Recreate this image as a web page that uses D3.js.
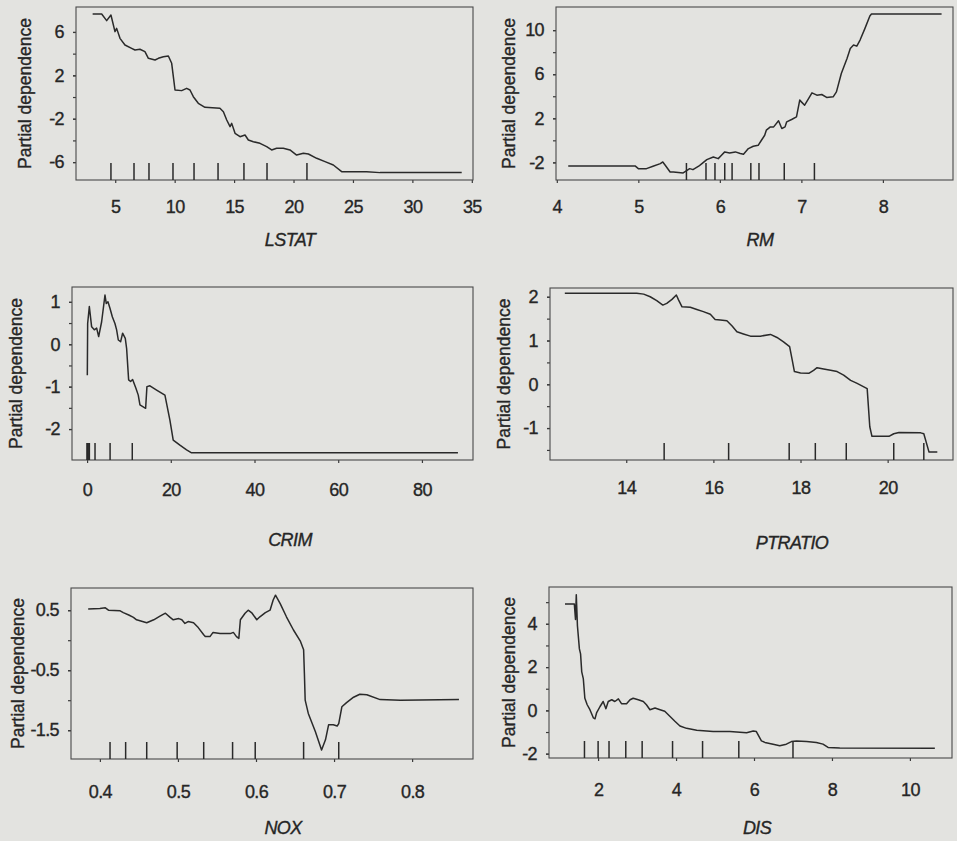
<!DOCTYPE html>
<html>
<head>
<meta charset="utf-8">
<script src="https://cdn.jsdelivr.net/npm/d3@7"></script>
<style>
  body { margin: 0; background: #e3e3e0; }
  svg text { fill: #262626; stroke: #262626; stroke-width: 0.35; }
  .tick text { font-family: "Liberation Sans", Arial, sans-serif; font-size: 18px; letter-spacing: -0.6px; }
  .tick line { stroke: #3a3a3a; stroke-width: 1.2; }
  .ytitle { font-family: "Liberation Sans", Arial, sans-serif; font-size: 17.5px; }
  .xtitle { font-family: "Liberation Sans", Arial, sans-serif; font-size: 18px; font-style: italic; letter-spacing: -0.6px; }
</style>
</head>
<body>
<div class="content"></div>
<script>
(function() {

  // Partial dependence curves
  var lstatX = [3.10, 3.86, 4.28, 4.64, 4.98, 5.12, 5.40, 5.82, 6.38, 6.66, 7.08, 7.50, 7.79, 8.35, 8.63, 9.05, 9.47, 9.75, 9.89, 10.03, 10.59, 11.01, 11.29, 11.57, 11.99, 12.55, 13.81, 14.10, 14.38, 14.66, 14.80, 15.08, 15.50, 15.92, 16.20, 16.62, 17.18, 17.74, 18.16, 18.58, 19.14, 19.70, 20.26, 20.83, 21.25, 21.95, 22.65, 23.35, 24.05, 26.15, 27.28, 34.15];
  var lstatY = [7.65, 7.65, 7.04, 7.56, 6.03, 6.33, 5.41, 4.80, 4.49, 4.34, 4.40, 4.18, 3.57, 3.41, 3.57, 3.72, 3.78, 3.11, 1.88, 0.65, 0.59, 0.80, 0.65, 0.03, -0.58, -0.95, -1.04, -1.35, -2.12, -2.73, -2.43, -3.35, -3.66, -3.50, -3.96, -4.12, -4.27, -4.58, -4.88, -4.73, -4.73, -4.88, -5.35, -5.19, -5.25, -5.65, -5.96, -6.27, -6.88, -6.88, -6.97, -6.97];
  var lstatRug = [4.64, 6.58, 7.84, 9.86, 11.63, 13.65, 15.83, 17.77, 21.13];

  var rmX = [4.14, 4.96, 5.00, 5.10, 5.18, 5.27, 5.30, 5.33, 5.39, 5.43, 5.55, 5.63, 5.67, 5.74, 5.78, 5.84, 5.92, 5.98, 6.02, 6.06, 6.12, 6.19, 6.25, 6.29, 6.35, 6.41, 6.47, 6.51, 6.55, 6.57, 6.62, 6.66, 6.72, 6.76, 6.80, 6.82, 6.88, 6.94, 6.98, 7.00, 7.04, 7.09, 7.13, 7.19, 7.25, 7.31, 7.39, 7.43, 7.49, 7.56, 7.60, 7.64, 7.68, 7.72, 7.78, 7.84, 7.86, 8.72];
  var rmY = [-2.32, -2.32, -2.57, -2.57, -2.35, -2.11, -1.96, -2.26, -2.87, -2.87, -2.96, -2.57, -2.66, -2.35, -2.11, -1.75, -1.51, -1.66, -1.35, -1.05, -1.14, -1.05, -1.20, -1.26, -0.75, -0.54, -0.45, 0.01, 0.46, 0.92, 1.22, 1.22, 1.77, 1.07, 1.22, 1.68, 1.89, 2.13, 3.65, 3.49, 3.19, 3.80, 4.31, 4.10, 4.16, 3.89, 3.95, 4.40, 6.07, 7.43, 8.34, 8.65, 8.55, 9.10, 10.16, 11.28, 11.46, 11.46];
  var rmRug = [5.59, 5.83, 5.94, 6.06, 6.15, 6.38, 6.48, 6.79, 7.16];

  var crimX = [0.06, 0.14, 0.54, 1.09, 1.73, 2.29, 2.77, 3.48, 4.28, 4.59, 4.99, 5.47, 6.03, 6.66, 7.06, 7.46, 8.02, 8.49, 9.13, 9.45, 9.93, 10.40, 10.88, 11.67, 12.23, 12.63, 13.99, 14.30, 15.02, 16.61, 18.60, 19.79, 20.58, 22.18, 23.77, 24.96, 88.60];
  var crimY = [-0.73, 0.49, 0.89, 0.41, 0.34, 0.38, 0.18, 0.53, 1.16, 0.96, 1.00, 0.85, 0.65, 0.49, 0.34, 0.10, 0.06, 0.26, 0.14, -0.10, -0.84, -0.88, -0.83, -1.04, -1.20, -1.43, -1.51, -1.00, -0.98, -1.08, -1.20, -1.79, -2.26, -2.38, -2.49, -2.56, -2.56];
  var crimRug = [0.04, 0.06, 0.10, 0.15, 0.26, 0.55, 1.9, 5.5, 10.8];

  var ptratioX = [12.59, 14.24, 14.40, 14.55, 14.70, 14.84, 14.93, 15.05, 15.15, 15.20, 15.28, 15.47, 15.62, 15.77, 15.93, 16.04, 16.16, 16.31, 16.43, 16.54, 16.69, 16.85, 17.08, 17.31, 17.46, 17.61, 17.75, 17.81, 17.86, 18.00, 18.19, 18.30, 18.38, 18.53, 18.69, 18.84, 18.99, 19.15, 19.30, 19.53, 19.59, 19.64, 20.03, 20.14, 20.26, 20.76, 20.83, 20.95, 21.14];
  var ptratioY = [2.08, 2.08, 2.06, 2.00, 1.91, 1.81, 1.85, 1.94, 2.04, 1.93, 1.77, 1.76, 1.71, 1.66, 1.60, 1.48, 1.47, 1.45, 1.33, 1.20, 1.15, 1.10, 1.10, 1.14, 1.07, 0.97, 0.86, 0.55, 0.29, 0.26, 0.25, 0.32, 0.38, 0.35, 0.32, 0.29, 0.21, 0.09, 0.02, -0.10, -0.97, -1.19, -1.19, -1.13, -1.10, -1.11, -1.13, -1.55, -1.55];
  var ptratioRug = [14.87, 16.35, 17.74, 18.34, 19.05, 20.14, 20.83];

  var noxX = [0.385, 0.400, 0.407, 0.411, 0.426, 0.430, 0.437, 0.443, 0.447, 0.460, 0.469, 0.477, 0.484, 0.490, 0.494, 0.501, 0.505, 0.509, 0.513, 0.520, 0.526, 0.533, 0.535, 0.541, 0.545, 0.554, 0.567, 0.571, 0.575, 0.578, 0.580, 0.586, 0.590, 0.595, 0.601, 0.605, 0.612, 0.618, 0.622, 0.625, 0.631, 0.639, 0.648, 0.657, 0.661, 0.662, 0.663, 0.667, 0.676, 0.684, 0.689, 0.693, 0.699, 0.704, 0.706, 0.710, 0.716, 0.725, 0.733, 0.742, 0.759, 0.785, 0.860];
  var noxY = [0.52, 0.53, 0.54, 0.50, 0.49, 0.46, 0.42, 0.38, 0.34, 0.29, 0.34, 0.40, 0.45, 0.38, 0.34, 0.36, 0.34, 0.28, 0.31, 0.29, 0.21, 0.09, 0.06, 0.06, 0.13, 0.11, 0.11, 0.13, 0.06, 0.03, 0.34, 0.45, 0.50, 0.45, 0.34, 0.39, 0.46, 0.50, 0.67, 0.75, 0.61, 0.39, 0.17, -0.02, -0.16, -0.55, -1.00, -1.22, -1.52, -1.83, -1.66, -1.41, -1.41, -1.43, -1.39, -1.11, -1.04, -0.95, -0.90, -0.91, -0.99, -1.00, -0.99];
  var noxRug = [0.413, 0.433, 0.460, 0.499, 0.533, 0.570, 0.599, 0.661, 0.706];

  var disX = [1.15, 1.39, 1.42, 1.44, 1.47, 1.52, 1.55, 1.58, 1.62, 1.66, 1.72, 1.79, 1.88, 1.92, 1.96, 2.05, 2.13, 2.20, 2.26, 2.35, 2.43, 2.52, 2.60, 2.73, 2.82, 2.90, 3.03, 3.16, 3.24, 3.33, 3.46, 3.59, 3.71, 3.84, 3.97, 4.10, 4.27, 4.53, 4.95, 5.38, 5.81, 5.98, 6.06, 6.19, 6.28, 6.49, 6.66, 6.83, 6.96, 7.09, 7.35, 7.60, 7.77, 7.90, 8.20, 10.64];
  var disY = [4.91, 4.91, 4.20, 5.34, 3.90, 2.84, 2.61, 1.78, 1.47, 0.56, 0.26, 0.03, -0.35, -0.39, -0.12, 0.18, 0.41, 0.08, 0.41, 0.49, 0.41, 0.53, 0.31, 0.31, 0.49, 0.56, 0.49, 0.41, 0.26, 0.03, 0.11, 0.03, -0.04, -0.27, -0.50, -0.72, -0.83, -0.92, -0.98, -0.98, -1.03, -0.95, -0.98, -1.41, -1.48, -1.56, -1.63, -1.56, -1.44, -1.41, -1.44, -1.48, -1.56, -1.71, -1.74, -1.75];
  var disRug = [1.65, 2.00, 2.28, 2.71, 3.13, 3.91, 4.68, 5.61, 7.00];

  // Tick labels
  var lstatXTicks = [5, 10, 15, 20, 25, 30, 35];
  var lstatYLabels = [-6, -2, 2, 6];
  var lstatYTicks = [-6, -4, -2, 0, 2, 4, 6];
  var rmXTicks = [4, 5, 6, 7, 8];
  var rmYLabels = [-2, 2, 6, 10];
  var rmYTicks = [-2, 0, 2, 4, 6, 8, 10];
  var crimXTicks = [0, 20, 40, 60, 80];
  var crimYLabels = [-2, -1, 0, 1];
  var crimYTicks = [-2, -1.5, -1, -0.5, 0, 0.5, 1];
  var ptratioXTicks = [14, 16, 18, 20];
  var ptratioYLabels = [-1, 0, 1, 2];
  var ptratioYTicks = [-1.5, -1, -0.5, 0, 0.5, 1, 1.5, 2];
  var noxXTicks = [0.4, 0.5, 0.6, 0.7, 0.8];
  var noxYLabels = [-1.5, -0.5, 0.5];
  var noxYTicks = [-1.5, -1, -0.5, 0, 0.5];
  var disXTicks = [2, 4, 6, 8, 10];
  var disYLabels = [-2, 0, 2, 4];
  var disYTicks = [-2, -1, 0, 1, 2, 3, 4, 5];

  // Panels: data + where each box sits on the page
  var panels = [
    { name: "LSTAT", xs: lstatX, ys: lstatY, rug: lstatRug, xTicks: lstatXTicks, yLabels: lstatYLabels, yTicks: lstatYTicks,
      xDomain: [1.7, 35.1], yDomain: [-7.65, 8.3], box: [76, 7, 473, 180], gap: 27, title: [290, 240], yTitleX: 25 },
    { name: "RM", xs: rmX, ys: rmY, rug: rmRug, xTicks: rmXTicks, yLabels: rmYLabels, yTicks: rmYTicks,
      xDomain: [3.99, 8.86], yDomain: [-3.6, 12.1], box: [556, 7, 953, 180], gap: 27, title: [760, 240], yTitleX: 509 },
    { name: "CRIM", xs: crimX, ys: crimY, rug: crimRug, xTicks: crimXTicks, yLabels: crimYLabels, yTicks: crimYTicks,
      xDomain: [-3.6, 92.2], yDomain: [-2.73, 1.35], box: [72, 287, 473, 460], gap: 30, title: [290, 540], yTitleX: 16 },
    { name: "PTRATIO", xs: ptratioX, ys: ptratioY, rug: ptratioRug, xTicks: ptratioXTicks, yLabels: ptratioYLabels, yTicks: ptratioYTicks,
      xDomain: [12.25, 21.5], yDomain: [-1.73, 2.2], box: [550, 288, 953, 460], gap: 28, title: [792, 543], yTitleX: 504 },
    { name: "NOX", xs: noxX, ys: noxY, rug: noxRug, xTicks: noxXTicks, yLabels: noxYLabels, yTicks: noxYTicks,
      xDomain: [0.363, 0.878], yDomain: [-1.98, 0.87], box: [71, 588, 473, 759], gap: 33, title: [283, 828], yTitleX: 18 },
    { name: "DIS", xs: disX, ys: disY, rug: disRug, xTicks: disXTicks, yLabels: disYLabels, yTicks: disYTicks,
      xDomain: [0.74, 11.08], yDomain: [-2.2, 5.7], box: [549, 587, 952, 758], gap: 32, title: [757, 828], yTitleX: 509 }
  ];

  var width = 957;
  var height = 841;
  var ink = "#2a2a2a";

  var svg = d3.select(".content").append("svg")
      .attr("width", width)
      .attr("height", height);

  svg.append("rect")
      .attr("width", width)
      .attr("height", height)
      .attr("fill", "#e3e3e0");

  function fmt(d) { return String(d); }

  function drawPanel(p) {
    var left = p.box[0], top = p.box[1], right = p.box[2], bottom = p.box[3];

    var x = d3.scaleLinear().domain(p.xDomain).range([left, right]);
    var y = d3.scaleLinear().domain(p.yDomain).range([bottom, top]);

    var g = svg.append("g").attr("class", "panel");

    // minor y ticks
    g.append("g")
        .attr("transform", "translate(" + left + ",0)")
        .call(d3.axisLeft(y).tickValues(p.yTicks).tickSize(3).tickFormat(""))
        .call(function(a) { a.select(".domain").remove(); });

    // labelled y ticks
    g.append("g")
        .attr("transform", "translate(" + left + ",0)")
        .call(d3.axisLeft(y).tickValues(p.yLabels).tickSize(3).tickPadding(9).tickFormat(fmt))
        .call(function(a) { a.select(".domain").remove(); });

    // x axis
    g.append("g")
        .attr("transform", "translate(0," + bottom + ")")
        .call(d3.axisBottom(x).tickValues(p.xTicks).tickSize(3).tickPadding(p.gap - 10).tickFormat(fmt))
        .call(function(a) { a.select(".domain").remove(); });

    // frame
    g.append("rect")
        .attr("x", left)
        .attr("y", top)
        .attr("width", right - left)
        .attr("height", bottom - top)
        .attr("fill", "none")
        .attr("stroke", "#4a4a4a")
        .attr("stroke-width", 1.1);

    // rug of deciles
    g.selectAll(".rug")
        .data(p.rug)
        .enter()
        .append("line")
        .attr("class", "rug")
        .attr("x1", function(d) { return x(d); })
        .attr("x2", function(d) { return x(d); })
        .attr("y1", bottom)
        .attr("y2", bottom - 17)
        .attr("stroke", ink)
        .attr("stroke-width", 1.5);

    // curve
    var line = d3.line()
        .x(function(d) { return x(d[0]); })
        .y(function(d) { return y(d[1]); });

    g.append("path")
        .datum(d3.zip(p.xs, p.ys))
        .attr("d", line)
        .attr("fill", "none")
        .attr("stroke", ink)
        .attr("stroke-width", 1.5)
        .attr("stroke-linejoin", "round");

    // titles
    g.append("text")
        .attr("class", "xtitle")
        .attr("x", p.title[0])
        .attr("y", p.title[1])
        .attr("dy", "0.35em")
        .attr("text-anchor", "middle")
        .text(p.name);

    g.append("text")
        .attr("class", "ytitle")
        .attr("transform", "translate(" + p.yTitleX + "," + (top + bottom) / 2 + ") rotate(-90)")
        .attr("dy", "0.35em")
        .attr("text-anchor", "middle")
        .text("Partial dependence");
  }

  panels.forEach(drawPanel);

})();
</script>
</body>
</html>
